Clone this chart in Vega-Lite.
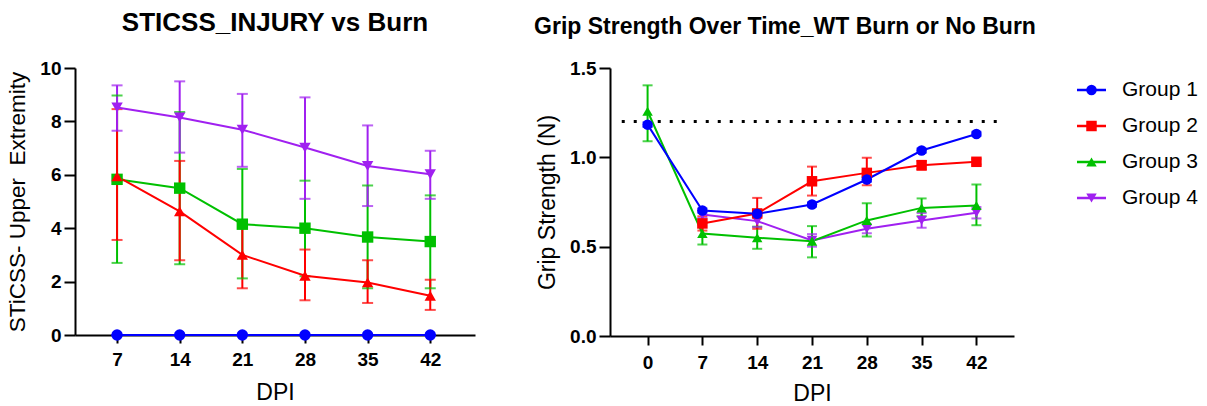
{
  "$schema": "https://vega.github.io/schema/vega-lite/v6.json",
  "background": "white",
  "padding": {"left": 6, "top": 10, "right": 5, "bottom": 0},
  "bounds": "flush",
  "spacing": 135,
  "config": {
    "font": "Liberation Sans",
    "view": {"stroke": null},
    "axis": {
      "grid": false,
      "domainColor": "black",
      "domainWidth": 2,
      "tickColor": "black",
      "tickWidth": 2,
      "labelColor": "black",
      "labelFont": "Liberation Sans",
      "labelFontWeight": "bold",
      "labelFontSize": 19,
      "titleColor": "black",
      "titleFont": "Liberation Sans",
      "titleFontWeight": "normal",
      "titleFontSize": 23
    },
    "title": {"font": "Liberation Sans", "fontWeight": "bold", "color": "black"}
  },
  "datasets": {
    "left": [
      {"dpi": 7, "group": "Group 1", "mean": 0, "lo": 0, "hi": 0},
      {"dpi": 14, "group": "Group 1", "mean": 0, "lo": 0, "hi": 0},
      {"dpi": 21, "group": "Group 1", "mean": 0, "lo": 0, "hi": 0},
      {"dpi": 28, "group": "Group 1", "mean": 0, "lo": 0, "hi": 0},
      {"dpi": 35, "group": "Group 1", "mean": 0, "lo": 0, "hi": 0},
      {"dpi": 42, "group": "Group 1", "mean": 0, "lo": 0, "hi": 0},
      {"dpi": 7, "group": "Group 2", "mean": 5.83, "lo": 2.7, "hi": 8.97},
      {"dpi": 14, "group": "Group 2", "mean": 5.5, "lo": 2.65, "hi": 8.35},
      {"dpi": 21, "group": "Group 2", "mean": 4.15, "lo": 2.12, "hi": 6.22},
      {"dpi": 28, "group": "Group 2", "mean": 4.0, "lo": 2.2, "hi": 5.78},
      {"dpi": 35, "group": "Group 2", "mean": 3.67, "lo": 1.75, "hi": 5.6},
      {"dpi": 42, "group": "Group 2", "mean": 3.5, "lo": 1.75, "hi": 5.23},
      {"dpi": 7, "group": "Group 3", "mean": 5.94, "lo": 3.56, "hi": 8.46},
      {"dpi": 14, "group": "Group 3", "mean": 4.63, "lo": 2.8, "hi": 6.52},
      {"dpi": 21, "group": "Group 3", "mean": 3.0, "lo": 1.75, "hi": 4.23},
      {"dpi": 28, "group": "Group 3", "mean": 2.22, "lo": 1.3, "hi": 3.2},
      {"dpi": 35, "group": "Group 3", "mean": 1.97, "lo": 1.2, "hi": 2.8},
      {"dpi": 42, "group": "Group 3", "mean": 1.47, "lo": 0.94, "hi": 2.07},
      {"dpi": 7, "group": "Group 4", "mean": 8.52, "lo": 7.65, "hi": 9.35},
      {"dpi": 14, "group": "Group 4", "mean": 8.15, "lo": 6.83, "hi": 9.5},
      {"dpi": 21, "group": "Group 4", "mean": 7.69, "lo": 6.3, "hi": 9.03},
      {"dpi": 28, "group": "Group 4", "mean": 7.02, "lo": 5.1, "hi": 8.9},
      {"dpi": 35, "group": "Group 4", "mean": 6.33, "lo": 4.83, "hi": 7.85},
      {"dpi": 42, "group": "Group 4", "mean": 6.02, "lo": 5.1, "hi": 6.9}
    ],
    "right": [
      {"dpi": 7, "group": "Group 4", "mean": 0.68, "lo": 0.66, "hi": 0.7},
      {"dpi": 14, "group": "Group 4", "mean": 0.643, "lo": 0.61, "hi": 0.675},
      {"dpi": 21, "group": "Group 4", "mean": 0.535, "lo": 0.5, "hi": 0.57},
      {"dpi": 28, "group": "Group 4", "mean": 0.6, "lo": 0.575, "hi": 0.625},
      {"dpi": 35, "group": "Group 4", "mean": 0.647, "lo": 0.606, "hi": 0.688},
      {"dpi": 42, "group": "Group 4", "mean": 0.69, "lo": 0.658, "hi": 0.722},
      {"dpi": 0, "group": "Group 3", "mean": 1.258, "lo": 1.09, "hi": 1.403},
      {"dpi": 7, "group": "Group 3", "mean": 0.574, "lo": 0.512, "hi": 0.636},
      {"dpi": 14, "group": "Group 3", "mean": 0.55, "lo": 0.488, "hi": 0.612},
      {"dpi": 21, "group": "Group 3", "mean": 0.531, "lo": 0.44, "hi": 0.615},
      {"dpi": 28, "group": "Group 3", "mean": 0.647, "lo": 0.557, "hi": 0.743},
      {"dpi": 35, "group": "Group 3", "mean": 0.717, "lo": 0.67, "hi": 0.77},
      {"dpi": 42, "group": "Group 3", "mean": 0.73, "lo": 0.62, "hi": 0.848},
      {"dpi": 7, "group": "Group 2", "mean": 0.63, "lo": 0.59, "hi": 0.67},
      {"dpi": 14, "group": "Group 2", "mean": 0.686, "lo": 0.6, "hi": 0.773},
      {"dpi": 21, "group": "Group 2", "mean": 0.866, "lo": 0.786, "hi": 0.948},
      {"dpi": 28, "group": "Group 2", "mean": 0.913, "lo": 0.844, "hi": 0.997},
      {"dpi": 35, "group": "Group 2", "mean": 0.956, "lo": 0.93, "hi": 0.98},
      {"dpi": 42, "group": "Group 2", "mean": 0.975, "lo": 0.96, "hi": 0.99},
      {"dpi": 0, "group": "Group 1", "mean": 1.183, "lo": 1.17, "hi": 1.196},
      {"dpi": 7, "group": "Group 1", "mean": 0.702, "lo": 0.69, "hi": 0.714},
      {"dpi": 14, "group": "Group 1", "mean": 0.684, "lo": 0.672, "hi": 0.696},
      {"dpi": 21, "group": "Group 1", "mean": 0.736, "lo": 0.724, "hi": 0.748},
      {"dpi": 28, "group": "Group 1", "mean": 0.876, "lo": 0.864, "hi": 0.888},
      {"dpi": 35, "group": "Group 1", "mean": 1.038, "lo": 1.026, "hi": 1.05},
      {"dpi": 42, "group": "Group 1", "mean": 1.131, "lo": 1.119, "hi": 1.143}
    ],
    "legend": [
      {"group": "Group 1"},
      {"group": "Group 2"},
      {"group": "Group 3"},
      {"group": "Group 4"}
    ]
  },
  "resolve": {"scale": {"x": "independent", "y": "independent", "color": "independent", "shape": "independent"}},
  "hconcat": [
    {
      "width": 400,
      "height": 267,
      "title": {"text": "STICSS_INJURY vs Burn", "fontSize": 26, "offset": 23},
      "data": {"name": "left"},
      "encoding": {
        "x": {"field": "dpi", "type": "quantitative", "scale": {"domain": [2.3, 47], "nice": false, "zero": false},
              "axis": {"values": [7, 14, 21, 28, 35, 42], "title": "DPI", "tickSize": 8, "labelPadding": 7, "titlePadding": 12}},
        "color": {"field": "group", "type": "nominal", "legend": null,
                  "scale": {"domain": ["Group 1", "Group 2", "Group 3", "Group 4"], "range": ["#0000ff", "#00c000", "#ff0000", "#a020f0"]}}
      },
      "layer": [
        {"mark": {"type": "rule", "strokeWidth": 2},
         "encoding": {"y": {"field": "lo", "type": "quantitative", "scale": {"domain": [0, 10], "nice": false},
                            "title": "STiCSS- Upper\u00a0 Extremity",
                            "axis": {"values": [0, 2, 4, 6, 8, 10], "tickSize": 11, "labelPadding": 3, "titlePadding": 10, "titleFontSize": 22.5}},
                      "y2": {"field": "hi"}}},
        {"mark": {"type": "tick", "orient": "horizontal", "size": 11, "thickness": 2},
         "encoding": {"y": {"field": "hi", "type": "quantitative", "title": "STiCSS- Upper\u00a0 Extremity"}}},
        {"mark": {"type": "tick", "orient": "horizontal", "size": 11, "thickness": 2},
         "encoding": {"y": {"field": "lo", "type": "quantitative", "title": "STiCSS- Upper\u00a0 Extremity"}}},
        {"mark": {"type": "line", "strokeWidth": 2},
         "encoding": {"y": {"field": "mean", "type": "quantitative", "title": "STiCSS- Upper\u00a0 Extremity"}}},
        {"mark": {"type": "point", "filled": true, "size": 130, "opacity": 1},
         "encoding": {"y": {"field": "mean", "type": "quantitative", "title": "STiCSS- Upper\u00a0 Extremity"},
                      "shape": {"field": "group", "type": "nominal", "legend": null,
                                "scale": {"domain": ["Group 1", "Group 2", "Group 3", "Group 4"], "range": ["circle", "square", "triangle-up", "triangle-down"]}}}}
      ]
    },
    {
      "bounds": "flush",
      "spacing": 56,
      "resolve": {"scale": {"x": "independent", "y": "independent", "color": "independent", "shape": "independent"}},
      "hconcat": [
        {
          "width": 404,
          "height": 268,
          "title": {"text": "Grip Strength Over Time_WT Burn or No Burn", "fontSize": 23, "offset": 20, "dx": -27},
          "encoding": {
            "x": {"field": "dpi", "type": "quantitative", "scale": {"domain": [-4.8, 46.8], "nice": false, "zero": false},
                  "axis": {"values": [0, 7, 14, 21, 28, 35, 42], "title": "DPI", "tickSize": 9, "labelPadding": 8, "titlePadding": 10}}
          },
          "layer": [
            {"data": {"values": [{"start": -3.3, "end": 44.6, "ref": 1.2}]},
             "mark": {"type": "rule", "color": "black", "strokeWidth": 3, "strokeDash": [3, 9]},
             "encoding": {"x": {"field": "start", "type": "quantitative"}, "x2": {"field": "end"},
                          "y": {"field": "ref", "type": "quantitative", "scale": {"domain": [0, 1.5], "nice": false},
                                "title": "Grip Strength (N)",
                                "axis": {"values": [0, 0.5, 1, 1.5], "format": ".1f", "tickSize": 11, "labelPadding": 3, "titlePadding": 10}}}},
            {"data": {"name": "right"},
             "encoding": {
               "color": {"field": "group", "type": "nominal", "legend": null,
                         "scale": {"domain": ["Group 1", "Group 2", "Group 3", "Group 4"], "range": ["#0000ff", "#ff0000", "#00c000", "#a020f0"]}}
             },
             "layer": [
               {"mark": {"type": "rule", "strokeWidth": 2},
                "encoding": {"y": {"field": "lo", "type": "quantitative", "title": "Grip Strength (N)"}, "y2": {"field": "hi"}}},
               {"mark": {"type": "tick", "orient": "horizontal", "size": 10, "thickness": 2},
                "encoding": {"y": {"field": "hi", "type": "quantitative", "title": "Grip Strength (N)"}}},
               {"mark": {"type": "tick", "orient": "horizontal", "size": 10, "thickness": 2},
                "encoding": {"y": {"field": "lo", "type": "quantitative", "title": "Grip Strength (N)"}}},
               {"mark": {"type": "line", "strokeWidth": 2},
                "encoding": {"y": {"field": "mean", "type": "quantitative", "title": "Grip Strength (N)"}}},
               {"mark": {"type": "point", "filled": true, "size": 110, "opacity": 1},
                "encoding": {"y": {"field": "mean", "type": "quantitative", "title": "Grip Strength (N)"},
                             "shape": {"field": "group", "type": "nominal", "legend": null,
                                       "scale": {"domain": ["Group 1", "Group 2", "Group 3", "Group 4"], "range": ["circle", "square", "triangle-up", "triangle-down"]}}}}
             ]}
          ]
        },
        {
          "width": 120,
          "height": 152,
          "data": {"name": "legend"},
          "encoding": {
            "y": {"field": "group", "type": "ordinal", "axis": null,
                  "scale": {"type": "point", "padding": 0.611, "domain": ["Group 1", "Group 2", "Group 3", "Group 4"]}},
            "color": {"field": "group", "type": "nominal", "legend": null,
                      "scale": {"domain": ["Group 1", "Group 2", "Group 3", "Group 4"], "range": ["#0000ff", "#ff0000", "#00c000", "#a020f0"]}}
          },
          "layer": [
            {"mark": {"type": "rule", "strokeWidth": 2.5},
             "encoding": {"x": {"datum": 7, "type": "quantitative", "scale": {"domain": [0, 120]}, "axis": null}, "x2": {"datum": 36}}},
            {"mark": {"type": "point", "filled": true, "size": 110, "opacity": 1},
             "encoding": {"x": {"datum": 21.5, "type": "quantitative"},
                          "shape": {"field": "group", "type": "nominal", "legend": null,
                                    "scale": {"domain": ["Group 1", "Group 2", "Group 3", "Group 4"], "range": ["circle", "square", "triangle-up", "triangle-down"]}}}},
            {"mark": {"type": "text", "align": "left", "baseline": "middle", "fontSize": 21, "color": "black"},
             "encoding": {"x": {"datum": 52, "type": "quantitative"}, "text": {"field": "group"}, "color": {"value": "black"}}}
          ]
        }
      ]
    }
  ]
}
